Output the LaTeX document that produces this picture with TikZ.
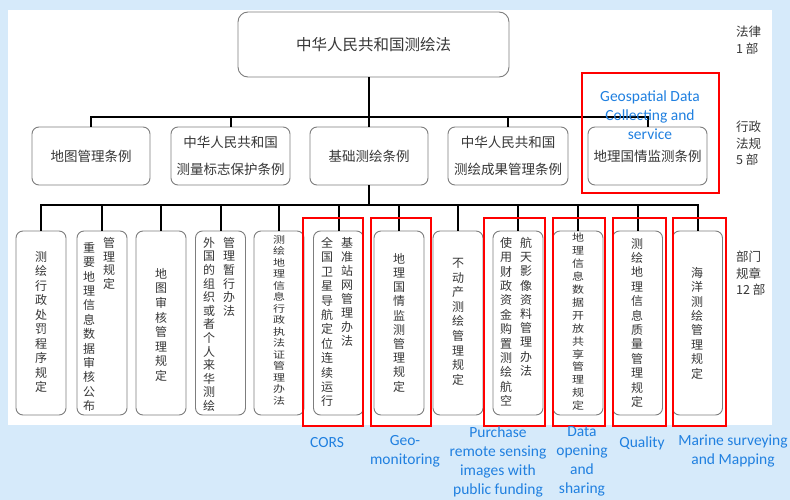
\documentclass[tikz,border=0pt]{standalone}
\usepackage{fontspec}
\setmainfont{Carlito}
\newfontfamily\cjk{Noto Sans CJK SC}
\definecolor{bgblue}{RGB}{214,234,250}
\definecolor{boxgray}{RGB}{125,125,125}
\definecolor{txtgray}{RGB}{55,55,55}
\definecolor{lblue}{RGB}{32,128,224}
\def\vtaux#1{\ifx\relax#1\else\hbox to 1em{\hss#1\hss}\expandafter\vtaux\fi}
\newcommand\vcol[2]{\vbox{\baselineskip=#1\lineskiplimit=-\maxdimen\lineskip=0pt\relax\vtaux#2\relax}}
\tikzset{
  box/.style={draw=boxgray, line width=0.9pt, fill=white, rounded corners=7pt, inner sep=0pt},
  conn/.style={line width=2pt, black},
  redbox/.style={draw=red, line width=1.8pt},
  l2text/.style={font={\cjk\fontsize{13.5}{27}\selectfont}, text=txtgray, align=center},
  vt/.style={font={\cjk\fontsize{12}{14}\selectfont}, text=txtgray, inner sep=0pt, anchor=north},
  rlab/.style={font={\cjk\fontsize{12.5}{16.5}\selectfont}, text=txtgray, align=left, inner sep=0pt, anchor=north west},
  blab/.style={font={\fontsize{15.5}{19}\selectfont}, text=lblue, align=center, inner sep=0pt}
}
\begin{document}
\begin{tikzpicture}[x=1pt,y=-1pt]
\useasboundingbox (0,0) rectangle (790,500);
\fill[bgblue] (0,0) rectangle (790,500);
\fill[white] (8,10) rectangle (772,425);

% level 1
\node[box, rounded corners=10pt, minimum width=271pt, minimum height=65pt,
      font={\cjk\fontsize{15.5}{18}\selectfont}, text=txtgray] (law) at (373.5,44.5) {中华人民共和国测绘法};

% level 2
\node[box, minimum width=118pt, minimum height=58pt] (l2a) at (91,156) {};
\node[box, minimum width=119pt, minimum height=58pt] (l2b) at (230.5,156) {};
\node[box, minimum width=118pt, minimum height=58pt] (l2c) at (369,156) {};
\node[box, minimum width=120pt, minimum height=58pt] (l2d) at (508,156) {};
\node[box, minimum width=119pt, minimum height=58pt] (l2e) at (647.5,156) {};
\node[l2text] (t2a) at (l2a) {地图管理条例};
\node[l2text] (t2b) at (l2b) {中华人民共和国\\测量标志保护条例};
\node[l2text] (t2c) at (l2c) {基础测绘条例};
\node[l2text] (t2d) at (l2d) {中华人民共和国\\测绘成果管理条例};
\node[l2text] (t2e) at (l2e) {地理国情监测条例};

% level 3 boxes
\foreach \n/\x in {a/41,b/102,c/161,d/220.5,e/279,f/338.5,g/399,h/458,i/518,j/578,k/637.5,l/697.5}
  \node[box, minimum width=50pt, minimum height=184pt] (b\n) at (\x,323) {};

% connectors
\coordinate (bus1) at (369,117);
\coordinate (bus2) at (369,205);
\draw[conn] (law.south -| l2c.north) -- (l2c.north);
\foreach \n in {l2a,l2b,l2d,l2e} \draw[conn] (bus1) -| (\n.north);
\draw[conn] (l2c.south) -- (bus2);
\foreach \n in {ba,bb,bc,bd,be,bf,bg,bh,bi,bj,bk,bl} \draw[conn] (bus2) -| (\n.north);

% vertical texts
\node[vt] (ta) at (41,251) {\vcol{14.5pt}{测绘行政处罚程序规定}};
\node[vt] (tb1) at (89,242) {\vcol{14.4pt}{重要地理信息数据审核公布}};
\node[vt] (tb2) at (109,237) {\vcol{13.8pt}{管理规定}};
\node[vt] (tc) at (161,268) {\vcol{14.6pt}{地图审核管理规定}};
\node[vt] (td1) at (209,237) {\vcol{13.6pt}{外国的组织或者个人来华测绘}};
\node[vt] (td2) at (229,237) {\vcol{13.6pt}{管理暂行办法}};
\node[vt] (te) at (279,235) {\scalebox{1}[0.8]{\vcol{14.4pt}{测绘地理信息行政执法证管理办法}}};
\node[vt] (tf1) at (327,237) {\vcol{14.4pt}{全国卫星导航定位连续运行}};
\node[vt] (tf2) at (347,237) {\vcol{14pt}{基准站网管理办法}};
\node[vt] (tg) at (399,253) {\vcol{14.2pt}{地理国情监测管理规定}};
\node[vt] (th) at (458,258) {\vcol{14.6pt}{不动产测绘管理规定}};
\node[vt] (ti1) at (506,237) {\vcol{14.4pt}{使用财政资金购置测绘航空}};
\node[vt] (ti2) at (526,237) {\vcol{14.2pt}{航天影像资料管理办法}};
\node[vt] (tj) at (578,233) {\scalebox{1}[0.85]{\vcol{15.2pt}{地理信息数据开放共享管理规定}}};
\node[vt] (tk) at (637,238) {\vcol{14.4pt}{测绘地理信息质量管理规定}};
\node[vt] (tl) at (697,267) {\vcol{14.4pt}{海洋测绘管理规定}};

% right labels
\node[rlab] (r1) at (736,26) {法律\\1 部};
\node[rlab] (r2) at (736,121) {行政\\法规\\5 部};
\node[rlab] (r3) at (736,251) {部门\\规章\\12 部};

% red highlight boxes
\draw[redbox] (582,73) rectangle (719,193);
\draw[redbox] (303,218) rectangle (363,426);
\draw[redbox] (371,218) rectangle (431,426);
\draw[redbox] (484,218) rectangle (545,426);
\draw[redbox] (553,218) rectangle (605,426);
\draw[redbox] (613,218) rectangle (666,426);
\draw[redbox] (673,218) rectangle (726,426);

% blue labels
\node[blab] (g1) at (650,115) {Geospatial Data\\Collecting and\\service};
\node[blab] (g2) at (327,443) {CORS};
\node[blab] (g3) at (405,451) {Geo-\\monitoring};
\node[blab] (g4) at (498,461.5) {Purchase\\remote sensing\\images with\\public funding};
\node[blab] (g5) at (582,461.5) {Data\\opening\\and\\sharing};
\node[blab] (g6) at (642,443) {Quality};
\node[blab] (g7) at (733,451) {Marine surveying\\and Mapping};
\end{tikzpicture}
\end{document}
